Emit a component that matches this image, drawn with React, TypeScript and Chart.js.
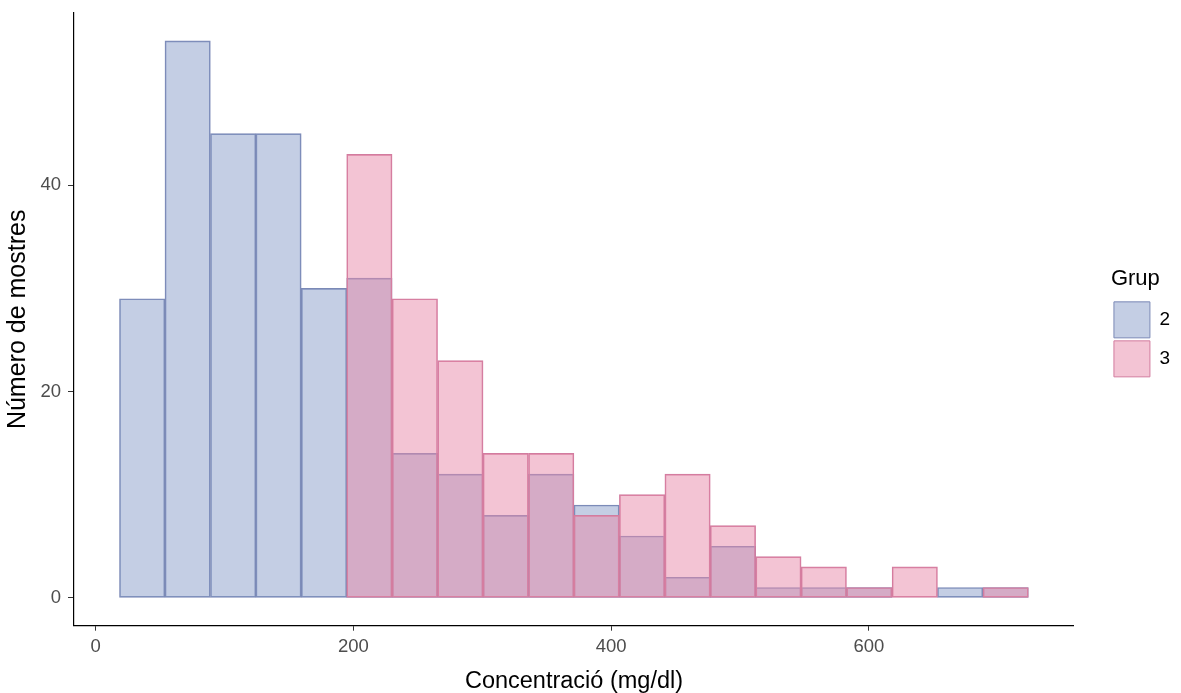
import React, { useEffect, useRef } from "react";
import { Chart, registerables } from "chart.js";

Chart.register(...registerables);

// Bin centres (mg/dl) of the 20 histogram bins
const binCenters = [36.1, 71.4, 106.7, 141.9, 177.2, 212.4, 247.7, 283.0, 318.2, 353.5, 388.7, 424.0, 459.3, 494.5, 529.8, 565.0, 600.3, 635.6, 670.8, 706.1];
// Counts per bin for each group
const group2Counts = [29, 54, 45, 45, 30, 31, 14, 12, 8, 12, 9, 6, 2, 5, 1, 1, 1, 0, 1, 1];
const group3Counts = [0, 0, 0, 0, 0, 43, 29, 23, 14, 14, 8, 10, 12, 7, 4, 3, 1, 3, 0, 1];
const seriesNames = ["2", "3"];
const xTicks = [0, 200, 400, 600];
const yTicks = [0, 20, 40];
const xRange = [-16.8, 759.1];
const yRange = [-2.7, 56.7];
const xTitle = "Concentració (mg/dl)";
const yTitle = "Número de mostres";
const legendTitle = "Grup";

const SANS = "'Liberation Sans', Arial, sans-serif";

const legendShift = {
  id: "legendShift",
  afterLayout(chart: any) {
    const lg = chart.legend;
    if (!lg) return;
    const w = lg.width;
    lg.left = chart.chartArea.right + 37;
    lg.right = lg.left + w;
  },
};

const noPad = (s: any) => {
  s.paddingTop = 0;
  s.paddingBottom = 0;
  s.paddingLeft = 0;
  s.paddingRight = 0;
};

export default function App() {
  const ref = useRef<HTMLCanvasElement | null>(null);

  useEffect(() => {
    if (!ref.current) return;
    const chart = new Chart(ref.current, {
      type: "bar",
      data: {
        datasets: [
          {
            label: seriesNames[0],
            data: binCenters.map((x, i) => ({ x, y: group2Counts[i] })),
            backgroundColor: "rgba(138,157,201,0.5)",
            borderColor: "#7b89b6",
            borderWidth: 1,
            borderSkipped: false,
            grouped: false,
            order: 1,
            categoryPercentage: 1,
            barPercentage: 1,
          } as any,
          {
            label: seriesNames[1],
            data: binCenters.map((x, i) => ({ x, y: group3Counts[i] })),
            backgroundColor: "rgba(231,137,170,0.5)",
            borderColor: "#d27c9f",
            borderWidth: 1,
            borderSkipped: false,
            grouped: false,
            order: 0,
            categoryPercentage: 1,
            barPercentage: 1,
          } as any,
        ],
      },
      options: {
        animation: false,
        responsive: false,
        devicePixelRatio: 1,
        layout: { padding: { top: 13, right: 38, bottom: 0, left: 0 } },
        plugins: {
          tooltip: { enabled: false },
          legend: {
            display: true,
            position: "right",
            align: "center",
            fullSize: false,
            title: {
              display: true,
              text: legendTitle,
              position: "start",
              color: "#000",
              font: { family: SANS, size: 22, lineHeight: 1 },
              padding: { top: 9, bottom: 9 },
            },
            labels: {
              boxWidth: 36,
              boxHeight: 36,
              padding: 3,
              color: "#000",
              font: { family: SANS, size: 19 },
              sort: (a: any, b: any) => a.datasetIndex - b.datasetIndex,
            },
          },
        },
        scales: {
          x: {
            type: "linear",
            min: xRange[0],
            max: xRange[1],
            offset: false,
            afterBuildTicks: (s: any) => {
              s.ticks = xTicks.map((v) => ({ value: v }));
            },
            afterFit: (s: any) => {
              s.height = 67.3;
              noPad(s);
            },
            grid: { offset: false, drawOnChartArea: false, drawTicks: true, tickLength: 5, color: "#333" },
            border: { display: true, color: "#000", width: 1.2 },
            ticks: {
              color: "#4d4d4d",
              font: { family: SANS, size: 18.5, lineHeight: 1.2 },
              padding: 5,
              maxRotation: 0,
            },
            title: {
              display: true,
              text: xTitle,
              color: "#000",
              font: { family: SANS, size: 23.5, lineHeight: 1 },
              padding: { top: -1, bottom: 0 },
            },
          },
          y: {
            type: "linear",
            min: yRange[0],
            max: yRange[1],
            afterBuildTicks: (s: any) => {
              s.ticks = yTicks.map((v) => ({ value: v }));
            },
            afterFit: (s: any) => {
              s.width = 74;
              noPad(s);
            },
            grid: { drawOnChartArea: false, drawTicks: true, tickLength: 6, color: "#333" },
            border: { display: true, color: "#000", width: 1.2 },
            ticks: {
              color: "#4d4d4d",
              font: { family: SANS, size: 18.5 },
              padding: 7,
            },
            title: {
              display: true,
              text: yTitle,
              color: "#000",
              font: { family: SANS, size: 25, lineHeight: 1.2 },
              padding: { top: 3, bottom: 0 },
            },
          },
        },
      } as any,
      plugins: [legendShift],
    });
    return () => chart.destroy();
  }, []);

  return (
    <div style={{ position: "absolute", left: 0, top: 0, width: 1181, height: 693, background: "#fff" }}>
      <canvas ref={ref} width={1181} height={693} style={{ display: "block" }} />
    </div>
  );
}
